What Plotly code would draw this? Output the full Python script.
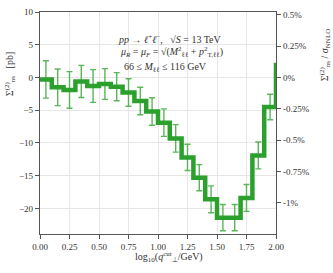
import plotly.graph_objects as go

# ---- data ----
bin_edges = [0.0, 0.1, 0.2, 0.3, 0.4, 0.5, 0.6, 0.7, 0.8, 0.9, 1.0,
             1.1, 1.2, 1.3, 1.4, 1.5, 1.6, 1.7, 1.8, 1.9, 2.0, 2.1]
sigma_values = [-0.3, -1.5, -1.9, -0.6, -1.3, -1.0, -1.4, -2.3, -3.6, -5.2,
                -6.9, -9.3, -12.2, -15.3, -18.6, -21.4, -21.4, -18.4, -11.9, -4.5]
next_value = 1.9          # value of the bin just beyond 2.0 (clipped)
sigma_errors = [2.85, 2.8, 2.8, 2.45, 2.5, 2.35, 2.15, 2.1, 2.1, 2.1,
                2.1, 2.1, 2.0, 2.0, 2.05, 2.0, 2.0, 2.05, 2.05, 1.95]
sigma_nnlo_pb = 1915.0    # normalisation for the right axis (in %)

x_ticks = [0.0, 0.25, 0.5, 0.75, 1.0, 1.25, 1.5, 1.75, 2.0]
x_ticktext = ["0.00", "0.25", "0.50", "0.75", "1.00", "1.25", "1.50", "1.75", "2.00"]
y_ticks = [10, 5, 0, -5, -10, -15, -20]
y_ticktext = ["10", "5", "0", "\u22125", "\u221210", "\u221215", "\u221220"]
y2_ticks = [0.5, 0.25, 0.0, -0.25, -0.5, -0.75, -1.0]
y2_ticktext = ["0.5%", "0.25%", "0%", "-0.25%", "-0.5%", "-0.75%", "-1%"]

y_range = [-23.9, 10.0]
y2_range = [v / sigma_nnlo_pb * 100 for v in y_range]

centers = [(bin_edges[i] + bin_edges[i + 1]) / 2 for i in range(len(sigma_values))]
step_x = bin_edges
step_y = sigma_values + [next_value, next_value]

GREEN = "#2ca02c"
FONT = "Liberation Serif"
TXT = "#333333"

fig = go.Figure()
fig.add_trace(go.Scatter(
    x=centers, y=sigma_values, mode="markers",
    marker=dict(size=1, color="rgba(0,0,0,0)"),
    error_y=dict(type="data", array=sigma_errors, visible=True,
                 color="rgba(60,170,60,0.85)", thickness=1.4, width=3),
    showlegend=False, hoverinfo="skip"))
fig.add_trace(go.Scatter(
    x=step_x, y=step_y, mode="lines", line=dict(shape="hv", color=GREEN, width=4.5),
    showlegend=False, hoverinfo="skip"))
# invisible trace to carry the right axis
fig.add_trace(go.Scatter(x=[0], y=[0], yaxis="y2", mode="markers",
                         marker=dict(opacity=0), showlegend=False, hoverinfo="skip"))

axis_common = dict(showline=True, linecolor="#555555", linewidth=1.3,
                   ticks="outside", ticklen=4, tickcolor="#555555", tickwidth=1.2,
                   tickfont=dict(family=FONT, size=9, color=TXT), zeroline=False,
                   automargin=False)

fig.update_layout(
    width=333, height=273,
    margin=dict(l=40, r=57, t=12, b=39),
    paper_bgcolor="white", plot_bgcolor="white",
    xaxis=dict(range=[0, 2.0], tickvals=x_ticks, ticktext=x_ticktext,
               showgrid=True, gridcolor="#e6e6e6", gridwidth=1, mirror=True,
               **axis_common),
    yaxis=dict(range=y_range, tickvals=y_ticks, ticktext=y_ticktext,
               showgrid=True, gridcolor="#e6e6e6", gridwidth=1, **axis_common),
    yaxis2=dict(range=y2_range, tickvals=y2_ticks, ticktext=y2_ticktext,
                overlaying="y", side="right", showgrid=False, **axis_common),
)

ann_font = dict(family=FONT, size=10, color=TXT)
annotations = [
    dict(text="<i>pp</i> \u2192 <i>\u2113</i><sup>+</sup><i>\u2113</i><sup>\u2212</sup>,   \u221a<i>S</i> = 13 TeV",
         x=0.551, y=0.88),
    dict(text="<i>\u03bc<sub>R</sub></i> = <i>\u03bc<sub>F</sub></i> = \u221a(<i>M</i><sup>2</sup><sub>\u2113\u2113</sub> + <i>p</i><sup>2</sup><sub>T,\u2113\u2113</sub>)",
         x=0.558, y=0.82),
    dict(text="66 \u2264 <i>M</i><sub>\u2113\u2113</sub> \u2264 116 GeV", x=0.53, y=0.752),
]
for a in annotations:
    fig.add_annotation(xref="paper", yref="paper", showarrow=False,
                       xanchor="center", yanchor="middle", font=ann_font, **a)

fig.add_annotation(text="\u03a3<sup>(2)</sup><sub>ns</sub>   [pb]", xref="paper", yref="paper",
                   x=-0.127, y=0.72, textangle=-90, showarrow=False,
                   xanchor="center", yanchor="middle", font=dict(family=FONT, size=10, color=TXT))
fig.add_annotation(text="\u03a3<sup>(2)</sup><sub>ns</sub> / <i>\u03c3</i><sub>NNLO</sub>", xref="paper", yref="paper",
                   x=1.208, y=0.806, textangle=-90, showarrow=False,
                   xanchor="center", yanchor="middle", font=dict(family=FONT, size=10, color=TXT))
fig.add_annotation(text="log<sub>10</sub>(<i>q</i><sup>cut</sup><sub>\u22a5</sub>/GeV)", xref="paper", yref="paper",
                   x=0.547, y=-0.104, showarrow=False,
                   xanchor="center", yanchor="middle", font=dict(family=FONT, size=10, color=TXT))

# remove the browser's default 8px body margin so the figure fills the window
fig.write_html("out.html", config={"displayModeBar": False},
               post_script="document.body.style.margin='0';")
